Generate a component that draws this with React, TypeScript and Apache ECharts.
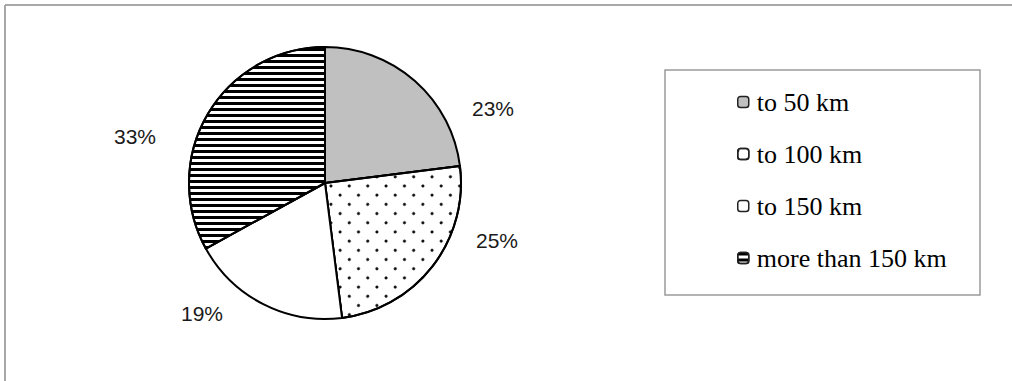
import React, { useEffect, useRef } from "react";
import * as echarts from "echarts";

const categories = ["to 50 km", "to 100 km", "to 150 km", "more than 150 km"];
const shares = [23, 25, 19, 33];
const labelTexts = ["23%", "25%", "19%", "33%"];

// label anchor positions (layout, px)
const labelPositions: [number, number][] = [
  [493, 108],
  [497, 240],
  [202, 313],
  [135, 136],
];

const sliceStyles: any[] = [
  { color: "#c0c0c0" },
  {
    color: "#ffffff",
    decal: {
      symbol: "circle",
      symbolSize: 1,
      color: "#000000",
      dashArrayX: [2.2, 9.5],
      dashArrayY: [2.2, 9.5],
      rotation: Math.PI / 4,
    },
  },
  { color: "#ffffff" },
  {
    color: "#ffffff",
    decal: {
      symbol: "rect",
      symbolSize: 1,
      color: "#000000",
      dashArrayX: [1, 0],
      dashArrayY: [2.6, 3],
      rotation: 0,
    },
  },
];

export default function App() {
  const ref = useRef<HTMLDivElement>(null);
  useEffect(() => {
    document.body.style.margin = "0";
    const chart = echarts.init(ref.current!, undefined, { renderer: "svg" });
    chart.setOption({
      animation: false,
      backgroundColor: "#ffffff",
      legend: {
        orient: "vertical",
        left: 732,
        top: 84,
        itemWidth: 11,
        itemHeight: 11,
        itemGap: 26,
        icon: "roundRect",
        data: categories,
        itemStyle: { borderColor: "#222", borderWidth: 1.5 },
        textStyle: {
          fontFamily: "Liberation Serif",
          fontSize: 26,
          lineHeight: 26,
          color: "#000",
          padding: [0, 0, 0, 3],
        },
      },
      graphic: [
        {
          type: "line",
          shape: { x1: 5, y1: 5, x2: 1012, y2: 5 },
          style: { stroke: "#a8a8a8", lineWidth: 2 },
          silent: true,
        },
        {
          type: "line",
          shape: { x1: 5, y1: 5, x2: 5, y2: 381 },
          style: { stroke: "#a8a8a8", lineWidth: 2 },
          silent: true,
        },
        {
          type: "rect",
          shape: { x: 665, y: 70, width: 315, height: 225 },
          style: { fill: "none", stroke: "#9a9a9a", lineWidth: 1.5 },
          silent: true,
          z: -1,
        },
      ],
      series: [
        {
          type: "pie",
          center: [325, 183],
          radius: 136,
          startAngle: 90,
          clockwise: true,
          silent: true,
          itemStyle: { borderColor: "#000", borderWidth: 2 },
          label: {
            show: true,
            position: "outside",
            formatter: (p: any) => labelTexts[p.dataIndex],
            fontFamily: "Liberation Sans",
            fontSize: 21,
            color: "#1a1a1a",
          },
          labelLine: { show: false },
          labelLayout: (p: any) => ({
            x: labelPositions[p.dataIndex][0],
            y: labelPositions[p.dataIndex][1],
            align: "center",
            verticalAlign: "middle",
          }),
          data: categories.map((name, i) => ({
            name,
            value: shares[i],
            itemStyle: sliceStyles[i],
          })),
        },
      ],
    });
    return () => chart.dispose();
  }, []);
  return <div ref={ref} style={{ width: 1012, height: 381 }} />;
}
